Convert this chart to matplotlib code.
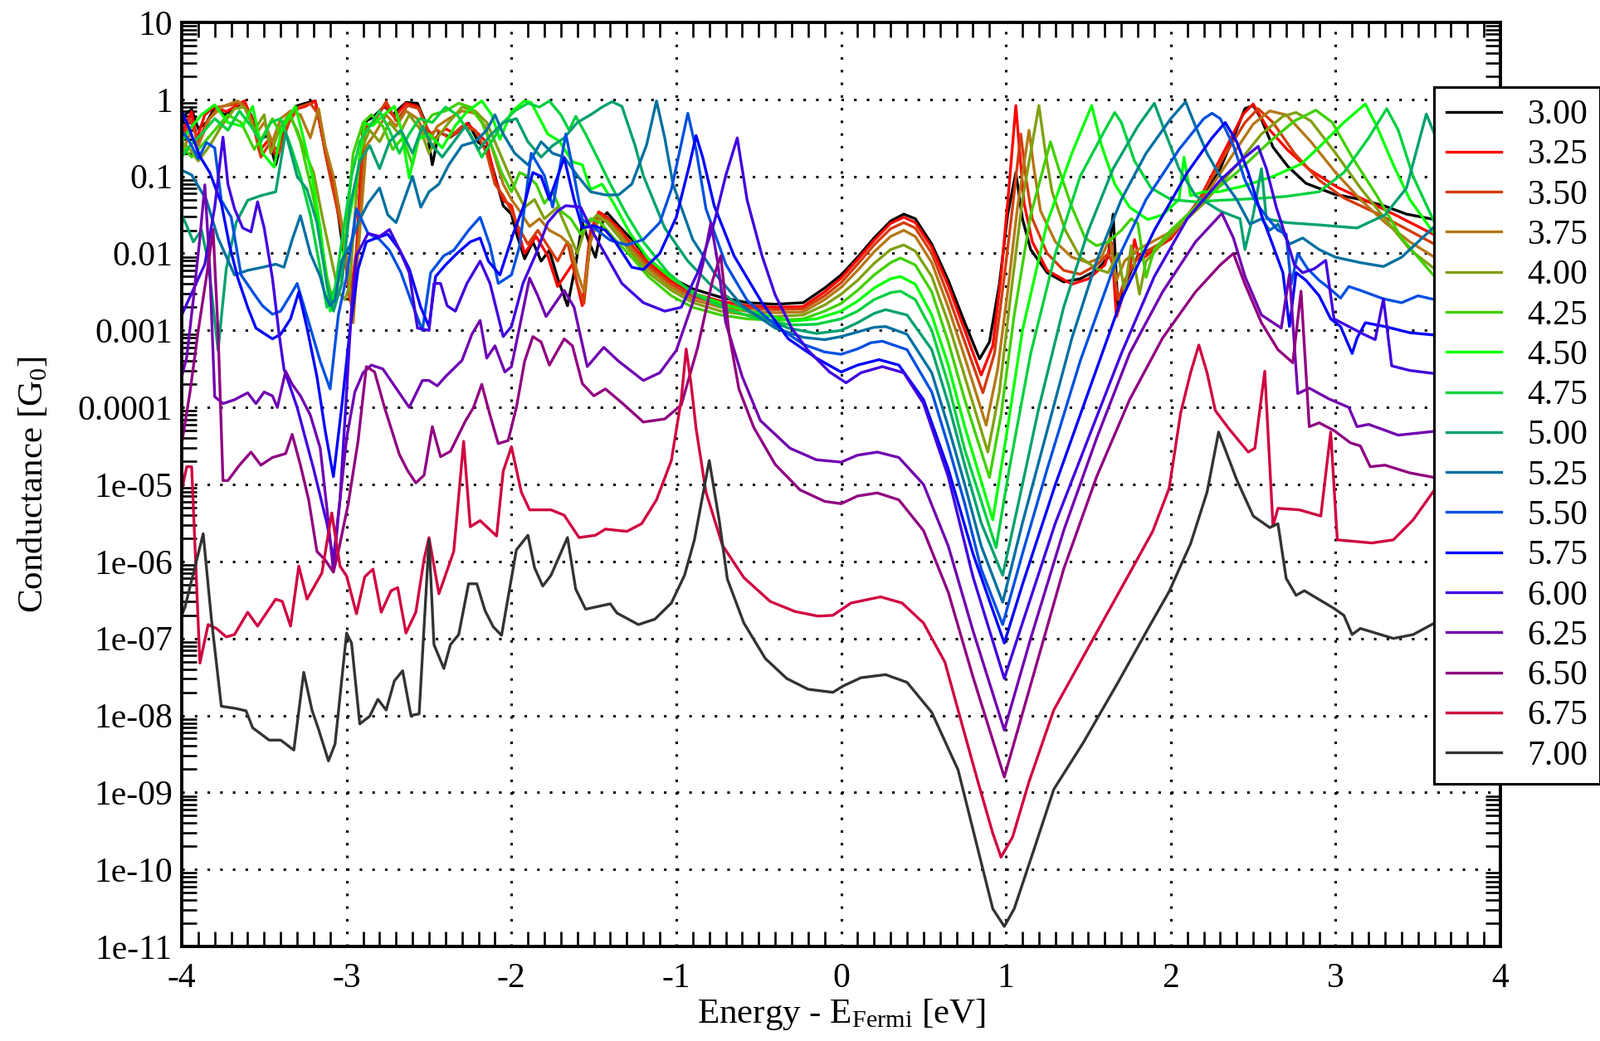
import numpy as np
import matplotlib
matplotlib.use('Agg')
import matplotlib.pyplot as plt
from matplotlib.ticker import FixedLocator, FuncFormatter, MultipleLocator

# each curve: (energy [eV], log10 conductance [G0])
c300 = [(-4.00, -0.35), (-3.98, -0.20), (-3.94, -0.13), (-3.90, -0.38), (-3.85, -0.30), (-3.80, -0.11),
        (-3.74, -0.20), (-3.63, -0.04), (-3.58, -0.20), (-3.53, -0.52), (-3.48, -0.47), (-3.43, -0.85),
        (-3.38, -0.43), (-3.31, -0.09), (-3.25, -0.05), (-3.19, -0.02), (-3.15, -0.45), (-3.11, -0.81),
        (-3.06, -1.35), (-3.03, -1.82), (-2.99, -2.32), (-2.97, -2.68), (-2.94, -2.10), (-2.90, -0.31),
        (-2.84, -0.23), (-2.77, -0.09), (-2.72, -0.20), (-2.64, -0.04), (-2.57, -0.05), (-2.52, -0.31),
        (-2.48, -0.85), (-2.44, -0.43), (-2.37, -0.49), (-2.32, -0.41), (-2.26, -0.31), (-2.20, -0.56),
        (-2.15, -0.63), (-2.10, -0.99), (-2.05, -1.38), (-2.00, -1.49), (-1.97, -1.74), (-1.92, -2.07),
        (-1.87, -1.85), (-1.82, -2.10), (-1.77, -1.96), (-1.72, -2.32), (-1.66, -2.68), (-1.61, -2.14),
        (-1.57, -1.60), (-1.53, -1.85), (-1.49, -2.05), (-1.44, -1.52), (-1.42, -1.47), (-1.35, -1.64),
        (-1.27, -1.82), (-1.17, -2.07), (-1.03, -2.32), (-0.90, -2.46), (-0.73, -2.57), (-0.57, -2.64),
        (-0.40, -2.66), (-0.23, -2.64), (-0.10, -2.45), (0.00, -2.28), (0.10, -2.05), (0.20, -1.80),
        (0.30, -1.58), (0.38, -1.49), (0.45, -1.55), (0.55, -1.88), (0.65, -2.35), (0.75, -2.90),
        (0.84, -3.37), (0.90, -3.15), (0.96, -2.40), (1.01, -1.50), (1.06, -0.95), (1.10, -1.55),
        (1.15, -1.95), (1.25, -2.25), (1.35, -2.37), (1.45, -2.33), (1.55, -2.22), (1.62, -2.05),
        (1.65, -1.49), (1.68, -2.74), (1.72, -2.42), (1.80, -2.03), (2.00, -1.81), (2.17, -1.31),
        (2.29, -0.95), (2.39, -0.44), (2.45, -0.12), (2.50, -0.08), (2.55, -0.26), (2.62, -0.62),
        (2.71, -0.87), (2.82, -1.09), (2.99, -1.23), (3.13, -1.29), (3.29, -1.38), (3.43, -1.49),
        (3.60, -1.56)]
c325 = [(-4.00, -0.45), (-3.98, -0.35), (-3.94, -0.16), (-3.91, -0.52), (-3.86, -0.20), (-3.80, -0.09),
        (-3.73, -0.16), (-3.62, -0.02), (-3.57, -0.27), (-3.53, -0.67), (-3.47, -0.52), (-3.43, -0.74),
        (-3.36, -0.34), (-3.31, -0.13), (-3.25, -0.09), (-3.19, -0.02), (-3.14, -0.56), (-3.10, -0.99),
        (-3.05, -1.38), (-3.01, -2.03), (-2.98, -2.61), (-2.94, -1.96), (-2.90, -0.38), (-2.84, -0.31),
        (-2.77, -0.07), (-2.71, -0.23), (-2.64, -0.05), (-2.57, -0.09), (-2.51, -0.38), (-2.47, -0.52),
        (-2.40, -0.38), (-2.34, -0.45), (-2.27, -0.31), (-2.20, -0.45), (-2.15, -0.56), (-2.10, -1.03),
        (-2.05, -1.31), (-2.00, -1.38), (-1.95, -1.78), (-1.92, -2.00), (-1.85, -1.78), (-1.78, -2.03),
        (-1.72, -2.43), (-1.63, -2.14), (-1.57, -2.68), (-1.52, -1.70), (-1.47, -1.46), (-1.42, -1.53),
        (-1.35, -1.67), (-1.27, -1.89), (-1.17, -2.12), (-1.03, -2.36), (-0.90, -2.52), (-0.73, -2.62),
        (-0.57, -2.68), (-0.40, -2.70), (-0.23, -2.69), (-0.10, -2.50), (0.00, -2.32), (0.10, -2.08),
        (0.20, -1.83), (0.30, -1.61), (0.38, -1.53), (0.45, -1.60), (0.55, -1.92), (0.65, -2.42),
        (0.75, -3.00), (0.85, -3.58), (0.92, -3.20), (0.97, -2.30), (1.02, -1.10), (1.06, -0.08),
        (1.08, -0.60), (1.11, -1.35), (1.16, -1.85), (1.25, -2.22), (1.40, -2.40), (1.50, -2.33),
        (1.60, -2.15), (1.64, -1.86), (1.67, -2.82), (1.71, -2.55), (1.75, -2.20), (1.78, -1.82),
        (1.81, -2.10), (1.90, -1.95), (2.00, -1.81), (2.17, -1.31), (2.32, -0.69), (2.44, -0.19),
        (2.50, -0.06), (2.58, -0.35), (2.71, -0.66), (2.84, -0.91), (3.01, -1.14), (3.21, -1.34),
        (3.38, -1.52), (3.60, -1.76)]
c350 = [(-4.00, -0.55), (-3.95, -0.25), (-3.90, -0.55), (-3.85, -0.30), (-3.78, -0.10), (-3.70, -0.07),
        (-3.63, -0.05), (-3.57, -0.30), (-3.52, -0.75), (-3.46, -0.55), (-3.41, -0.70), (-3.35, -0.30),
        (-3.29, -0.10), (-3.22, -0.05), (-3.17, -0.20), (-3.13, -0.70), (-3.08, -1.20), (-3.03, -1.70),
        (-2.99, -2.40), (-2.96, -2.75), (-2.93, -1.80), (-2.89, -0.40), (-2.83, -0.28), (-2.76, -0.03),
        (-2.70, -0.28), (-2.63, -0.08), (-2.56, -0.12), (-2.50, -0.45), (-2.45, -0.40), (-2.38, -0.50),
        (-2.30, -0.35), (-2.22, -0.40), (-2.15, -0.70), (-2.10, -1.10), (-2.05, -1.25), (-2.00, -1.45),
        (-1.96, -1.65), (-1.90, -1.88), (-1.84, -1.70), (-1.78, -1.90), (-1.72, -2.10), (-1.66, -1.85),
        (-1.60, -2.40), (-1.56, -2.65), (-1.52, -1.80), (-1.47, -1.50), (-1.42, -1.55), (-1.35, -1.70),
        (-1.27, -1.92), (-1.17, -2.16), (-1.03, -2.40), (-0.90, -2.56), (-0.73, -2.66), (-0.57, -2.71),
        (-0.40, -2.73), (-0.23, -2.72), (-0.10, -2.55), (0.00, -2.38), (0.10, -2.14), (0.20, -1.89),
        (0.30, -1.68), (0.38, -1.60), (0.45, -1.67), (0.55, -2.00), (0.65, -2.55), (0.75, -3.15),
        (0.86, -3.81), (0.93, -3.30), (0.99, -2.30), (1.04, -1.40), (1.09, -0.45), (1.12, -1.00),
        (1.16, -1.55), (1.25, -2.00), (1.35, -2.22), (1.45, -2.27), (1.55, -2.15), (1.62, -2.00),
        (1.65, -2.15), (1.68, -2.60), (1.72, -2.35), (1.80, -2.05), (2.00, -1.78), (2.17, -1.32),
        (2.32, -0.75), (2.45, -0.30), (2.53, -0.12), (2.62, -0.30), (2.75, -0.70), (2.90, -1.05),
        (3.05, -1.28), (3.25, -1.48), (3.40, -1.65), (3.60, -1.88)]
c375 = [(-4.00, -0.70), (-3.95, -0.45), (-3.90, -0.60), (-3.83, -0.25), (-3.76, -0.10), (-3.66, -0.02),
        (-3.60, -0.15), (-3.55, -0.45), (-3.50, -0.30), (-3.45, -0.55), (-3.40, -0.25), (-3.34, -0.15),
        (-3.28, -0.20), (-3.22, -0.50), (-3.17, -0.12), (-3.13, -0.60), (-3.08, -1.00), (-3.03, -1.60),
        (-2.99, -2.20), (-2.96, -2.90), (-2.93, -2.00), (-2.88, -0.60), (-2.83, -0.45), (-2.76, -0.20),
        (-2.70, -0.35), (-2.64, -0.15), (-2.57, -0.25), (-2.50, -0.55), (-2.45, -0.35), (-2.38, -0.25),
        (-2.30, -0.15), (-2.22, -0.18), (-2.16, -0.35), (-2.10, -0.75), (-2.05, -1.10), (-2.00, -1.30),
        (-1.95, -1.45), (-1.89, -1.65), (-1.83, -1.55), (-1.77, -1.70), (-1.70, -1.78), (-1.64, -1.90),
        (-1.60, -2.25), (-1.56, -2.50), (-1.52, -1.85), (-1.47, -1.55), (-1.42, -1.58), (-1.35, -1.73),
        (-1.27, -1.95), (-1.17, -2.20), (-1.03, -2.44), (-0.90, -2.60), (-0.73, -2.70), (-0.57, -2.75),
        (-0.40, -2.77), (-0.23, -2.76), (-0.10, -2.60), (0.00, -2.44), (0.10, -2.22), (0.20, -1.98),
        (0.30, -1.78), (0.38, -1.70), (0.45, -1.78), (0.55, -2.12), (0.65, -2.70), (0.75, -3.35),
        (0.88, -4.23), (0.95, -3.50), (1.01, -2.50), (1.07, -1.40), (1.14, -0.40), (1.17, -0.90),
        (1.21, -1.45), (1.30, -1.85), (1.40, -2.05), (1.50, -2.12), (1.58, -2.05), (1.63, -1.80),
        (1.67, -2.35), (1.72, -2.10), (1.80, -1.95), (2.00, -1.72), (2.20, -1.28), (2.35, -0.80),
        (2.50, -0.32), (2.60, -0.15), (2.70, -0.20), (2.85, -0.55), (3.00, -0.95), (3.15, -1.30),
        (3.30, -1.60), (3.45, -1.85), (3.60, -2.05)]
c400 = [(-4.00, -0.55), (-3.95, -0.65), (-3.90, -0.80), (-3.83, -0.60), (-3.76, -0.35), (-3.68, -0.12),
        (-3.62, -0.10), (-3.56, -0.40), (-3.50, -0.20), (-3.46, -0.70), (-3.40, -0.35), (-3.35, -0.20),
        (-3.30, -0.40), (-3.25, -0.70), (-3.20, -0.95), (-3.15, -1.50), (-3.10, -2.00), (-3.05, -2.50),
        (-3.01, -2.60), (-2.98, -2.40), (-2.95, -1.50), (-2.92, -0.70), (-2.86, -0.40), (-2.80, -0.55),
        (-2.74, -0.30), (-2.68, -0.45), (-2.62, -0.20), (-2.55, -0.40), (-2.50, -0.70), (-2.45, -0.50),
        (-2.38, -0.30), (-2.30, -0.10), (-2.22, -0.15), (-2.15, -0.30), (-2.10, -0.55), (-2.04, -0.85),
        (-1.98, -1.15), (-1.92, -1.40), (-1.86, -1.30), (-1.80, -1.55), (-1.72, -1.40), (-1.66, -1.70),
        (-1.60, -2.00), (-1.55, -1.65), (-1.48, -1.50), (-1.42, -1.60), (-1.35, -1.78), (-1.27, -2.00),
        (-1.17, -2.25), (-1.03, -2.48), (-0.90, -2.64), (-0.73, -2.75), (-0.57, -2.80), (-0.40, -2.82),
        (-0.23, -2.80), (-0.10, -2.67), (0.00, -2.53), (0.10, -2.35), (0.20, -2.13), (0.30, -1.95),
        (0.38, -1.89), (0.45, -1.97), (0.55, -2.30), (0.65, -2.90), (0.75, -3.60), (0.89, -4.58),
        (0.96, -3.80), (1.02, -2.70), (1.10, -1.30), (1.20, -0.08), (1.24, -0.70), (1.28, -1.20),
        (1.36, -1.70), (1.45, -2.05), (1.55, -2.20), (1.62, -2.25), (1.68, -2.00), (1.72, -2.50),
        (1.76, -1.90), (1.81, -2.53), (1.85, -2.10), (2.00, -1.75), (2.20, -1.35), (2.40, -0.85),
        (2.55, -0.45), (2.68, -0.22), (2.76, -0.17), (2.85, -0.28), (3.00, -0.70), (3.15, -1.15),
        (3.30, -1.55), (3.45, -1.95), (3.60, -2.20)]
c425 = [(-4.00, -0.60), (-3.94, -0.75), (-3.88, -0.60), (-3.80, -0.40), (-3.72, -0.20), (-3.64, -0.30),
        (-3.56, -0.65), (-3.50, -0.45), (-3.45, -0.25), (-3.40, -0.45), (-3.34, -0.20), (-3.28, -0.55),
        (-3.22, -1.10), (-3.17, -1.60), (-3.12, -2.30), (-3.08, -2.65), (-3.03, -2.40), (-2.99, -1.40),
        (-2.96, -0.70), (-2.90, -0.30), (-2.85, -0.20), (-2.78, -0.35), (-2.72, -0.65), (-2.66, -0.50),
        (-2.60, -0.85), (-2.55, -0.40), (-2.48, -0.20), (-2.40, -0.15), (-2.32, -0.05), (-2.25, -0.10),
        (-2.18, -0.30), (-2.12, -0.60), (-2.06, -0.95), (-2.00, -1.20), (-1.95, -0.95), (-1.90, -1.00),
        (-1.85, -1.10), (-1.80, -1.35), (-1.75, -1.20), (-1.70, -1.45), (-1.64, -1.55), (-1.58, -1.75),
        (-1.52, -1.55), (-1.46, -1.60), (-1.38, -1.80), (-1.27, -2.05), (-1.17, -2.30), (-1.03, -2.55),
        (-0.90, -2.70), (-0.73, -2.80), (-0.57, -2.85), (-0.40, -2.87), (-0.23, -2.85), (-0.10, -2.75),
        (0.00, -2.65), (0.10, -2.48), (0.20, -2.28), (0.30, -2.12), (0.36, -2.06), (0.45, -2.15),
        (0.55, -2.50), (0.65, -3.15), (0.75, -3.90), (0.90, -4.91), (0.97, -4.10), (1.05, -2.80),
        (1.15, -1.50), (1.27, -0.55), (1.32, -0.90), (1.40, -1.40), (1.48, -1.80), (1.55, -1.90),
        (1.62, -1.85), (1.70, -1.70), (1.76, -1.55), (1.80, -1.61), (1.85, -2.31), (1.90, -1.95),
        (2.00, -1.70), (2.20, -1.30), (2.40, -0.95), (2.60, -0.55), (2.75, -0.28), (2.88, -0.14),
        (2.98, -0.30), (3.10, -0.75), (3.25, -1.25), (3.40, -1.80), (3.60, -2.30)]
c450 = [(-4.00, -0.55), (-3.95, -0.38), (-3.88, -0.20), (-3.80, -0.07), (-3.72, -0.30), (-3.63, -0.35),
        (-3.57, -0.09), (-3.51, -0.70), (-3.44, -0.88), (-3.39, -0.35), (-3.31, -0.09), (-3.26, -0.52),
        (-3.21, -0.99), (-3.16, -1.67), (-3.10, -2.75), (-3.04, -2.30), (-2.99, -1.60), (-2.94, -1.06),
        (-2.89, -0.31), (-2.84, -0.34), (-2.79, -0.23), (-2.71, -0.09), (-2.67, -0.38), (-2.62, -1.02),
        (-2.57, -0.52), (-2.50, -0.45), (-2.42, -0.63), (-2.34, -0.34), (-2.27, -0.16), (-2.18, -0.02),
        (-2.12, -0.20), (-2.07, -0.52), (-2.00, -0.16), (-1.92, -0.02), (-1.88, -0.04), (-1.78, -0.45),
        (-1.71, -0.54), (-1.63, -0.81), (-1.57, -0.85), (-1.52, -1.17), (-1.45, -1.10), (-1.38, -1.35),
        (-1.28, -1.74), (-1.17, -2.07), (-1.03, -2.32), (-0.87, -2.54), (-0.68, -2.68), (-0.48, -2.79),
        (-0.30, -2.88), (-0.15, -2.85), (0.00, -2.75), (0.10, -2.62), (0.20, -2.45), (0.30, -2.33),
        (0.36, -2.30), (0.45, -2.40), (0.55, -2.80), (0.65, -3.45), (0.75, -4.25), (0.92, -5.46),
        (1.00, -4.40), (1.10, -3.00), (1.25, -1.60), (1.40, -0.70), (1.52, -0.08), (1.58, -0.60),
        (1.66, -1.10), (1.75, -1.40), (1.86, -1.56), (1.95, -1.50), (2.05, -1.30), (2.08, -0.75),
        (2.12, -1.25), (2.20, -1.20), (2.29, -1.20), (2.45, -1.12), (2.62, -1.00), (2.79, -0.84),
        (2.90, -0.62), (3.05, -0.30), (3.18, -0.06), (3.25, -0.35), (3.35, -0.85), (3.45, -1.30),
        (3.60, -1.75)]
c475 = [(-4.00, -0.75), (-3.95, -0.60), (-3.88, -0.45), (-3.80, -0.25), (-3.72, -0.40), (-3.65, -0.15),
        (-3.58, -0.35), (-3.52, -0.55), (-3.46, -0.30), (-3.40, -0.25), (-3.34, -0.60), (-3.28, -1.00),
        (-3.22, -1.50), (-3.16, -2.20), (-3.12, -2.70), (-3.07, -2.45), (-3.02, -1.70), (-2.97, -1.00),
        (-2.92, -0.55), (-2.86, -0.35), (-2.80, -0.15), (-2.74, -0.40), (-2.68, -0.70), (-2.62, -0.45),
        (-2.56, -0.25), (-2.48, -0.30), (-2.40, -0.10), (-2.33, -0.20), (-2.25, -0.45), (-2.18, -0.75),
        (-2.12, -0.55), (-2.05, -0.30), (-1.98, -0.15), (-1.90, -0.05), (-1.83, -0.10), (-1.77, -0.02),
        (-1.70, -0.20), (-1.65, -0.40), (-1.61, -0.22), (-1.55, -0.45), (-1.48, -0.75), (-1.40, -1.10),
        (-1.30, -1.50), (-1.20, -1.85), (-1.05, -2.25), (-0.90, -2.52), (-0.70, -2.72), (-0.50, -2.85),
        (-0.30, -2.93), (-0.15, -2.92), (0.00, -2.85), (0.10, -2.75), (0.20, -2.60), (0.30, -2.51),
        (0.36, -2.49), (0.45, -2.60), (0.55, -3.00), (0.65, -3.70), (0.75, -4.55), (0.94, -5.82),
        (1.02, -4.80), (1.15, -3.30), (1.30, -2.00), (1.45, -1.00), (1.60, -0.40), (1.66, -0.17),
        (1.70, -0.30), (1.78, -0.80), (1.88, -1.15), (2.00, -1.30), (2.15, -1.33), (2.30, -1.31),
        (2.50, -1.29), (2.70, -1.26), (2.90, -1.20), (3.05, -0.95), (3.20, -0.50), (3.31, -0.12),
        (3.38, -0.40), (3.47, -1.00), (3.60, -1.60)]
c500 = [(-4.00, -1.50), (-3.97, -1.64), (-3.93, -1.85), (-3.88, -1.70), (-3.84, -2.10), (-3.78, -3.26),
        (-3.73, -2.20), (-3.67, -1.60), (-3.60, -1.31), (-3.52, -1.25), (-3.43, -1.20), (-3.37, -0.43),
        (-3.30, -1.00), (-3.24, -1.17), (-3.18, -1.60), (-3.12, -2.40), (-3.08, -2.75), (-3.03, -2.40),
        (-2.98, -1.40), (-2.92, -0.80), (-2.86, -0.60), (-2.80, -0.90), (-2.74, -0.55), (-2.67, -0.40),
        (-2.60, -0.70), (-2.54, -0.35), (-2.48, -0.60), (-2.42, -0.75), (-2.35, -0.55), (-2.28, -0.35),
        (-2.20, -0.65), (-2.12, -0.45), (-2.05, -0.30), (-1.97, -0.25), (-1.90, -0.55), (-1.82, -0.75),
        (-1.75, -0.60), (-1.68, -0.50), (-1.60, -0.30), (-1.52, -0.20), (-1.45, -0.10), (-1.39, -0.03),
        (-1.33, -0.09), (-1.25, -0.60), (-1.20, -0.99), (-1.07, -1.67), (-0.93, -2.10), (-0.80, -2.39),
        (-0.57, -2.75), (-0.32, -2.97), (-0.15, -3.04), (0.00, -3.00), (0.10, -2.90), (0.20, -2.78),
        (0.27, -2.73), (0.40, -2.80), (0.55, -3.25), (0.65, -3.95), (0.75, -4.75), (0.85, -5.50),
        (0.98, -6.18), (1.08, -5.20), (1.20, -4.00), (1.35, -2.70), (1.50, -1.70), (1.65, -0.90),
        (1.80, -0.35), (1.90, -0.05), (1.97, -0.45), (2.05, -0.90), (2.15, -1.25), (2.30, -1.45),
        (2.42, -1.55), (2.45, -1.95), (2.50, -1.50), (2.55, -0.90), (2.58, -1.55), (2.70, -1.60),
        (2.90, -1.63), (3.13, -1.67), (3.30, -1.50), (3.43, -1.15), (3.55, -0.19), (3.60, -0.45)]
c525 = [(-4.00, -0.92), (-3.94, -0.98), (-3.85, -1.31), (-3.78, -1.80), (-3.68, -2.28), (-3.60, -2.22),
        (-3.51, -2.18), (-3.43, -2.14), (-3.38, -2.18), (-3.33, -1.82), (-3.28, -1.51), (-3.22, -2.00),
        (-3.16, -2.30), (-3.13, -2.54), (-3.10, -2.68), (-3.07, -2.60), (-3.03, -2.10), (-2.98, -1.90),
        (-2.93, -1.60), (-2.87, -1.35), (-2.80, -1.15), (-2.75, -1.50), (-2.70, -1.60), (-2.65, -1.30),
        (-2.60, -1.00), (-2.55, -1.40), (-2.50, -1.20), (-2.44, -1.10), (-2.38, -0.85), (-2.30, -0.60),
        (-2.22, -0.55), (-2.15, -0.40), (-2.10, -0.20), (-2.05, -0.45), (-1.98, -0.70), (-1.90, -0.85),
        (-1.82, -0.55), (-1.75, -0.70), (-1.68, -0.75), (-1.60, -0.99), (-1.52, -1.20), (-1.43, -1.24),
        (-1.35, -1.24), (-1.27, -1.10), (-1.18, -0.59), (-1.12, -0.02), (-1.07, -0.50), (-1.02, -1.10),
        (-0.90, -1.82), (-0.77, -2.25), (-0.60, -2.68), (-0.40, -2.97), (-0.23, -3.09), (-0.10, -3.12),
        (0.00, -3.08), (0.10, -3.02), (0.20, -2.96), (0.27, -2.95), (0.40, -3.05), (0.55, -3.55),
        (0.65, -4.25), (0.75, -5.00), (0.85, -5.80), (0.98, -6.53), (1.10, -5.50), (1.25, -4.30),
        (1.40, -3.10), (1.55, -2.10), (1.70, -1.30), (1.85, -0.70), (2.00, -0.25), (2.09, -0.03),
        (2.15, -0.35), (2.22, -0.70), (2.30, -1.00), (2.40, -1.30), (2.48, -1.62), (2.55, -1.55),
        (2.60, -1.70), (2.65, -1.62), (2.72, -1.88), (2.80, -1.80), (2.90, -1.95), (3.00, -2.05),
        (3.15, -2.12), (3.29, -2.17), (3.40, -2.05), (3.50, -1.85), (3.60, -1.65)]
c550 = [(-4.00, -0.41), (-3.96, -0.52), (-3.90, -0.77), (-3.85, -0.56), (-3.80, -0.63), (-3.76, -1.31),
        (-3.70, -1.53), (-3.64, -2.28), (-3.57, -2.50), (-3.51, -2.68), (-3.45, -2.79), (-3.40, -2.75),
        (-3.34, -2.54), (-3.30, -2.39), (-3.24, -2.82), (-3.16, -3.40), (-3.10, -3.76), (-3.05, -2.80),
        (-3.00, -2.30), (-2.94, -1.42), (-2.87, -1.74), (-2.80, -1.82), (-2.74, -1.96), (-2.67, -2.25),
        (-2.61, -2.61), (-2.54, -3.00), (-2.49, -2.25), (-2.41, -2.03), (-2.35, -1.96), (-2.26, -1.70),
        (-2.19, -1.53), (-2.13, -1.90), (-2.08, -2.39), (-2.00, -2.28), (-1.95, -1.90), (-1.88, -0.70),
        (-1.80, -0.99), (-1.75, -1.40), (-1.67, -0.45), (-1.62, -0.99), (-1.57, -1.56), (-1.48, -1.70),
        (-1.40, -1.83), (-1.30, -1.89), (-1.20, -1.82), (-1.10, -1.60), (-1.03, -1.17), (-0.97, -0.58),
        (-0.93, -0.18), (-0.88, -0.65), (-0.82, -1.42), (-0.70, -2.14), (-0.57, -2.61), (-0.40, -2.93),
        (-0.23, -3.18), (-0.10, -3.28), (0.00, -3.31), (0.10, -3.24), (0.18, -3.16), (0.25, -3.14),
        (0.40, -3.25), (0.55, -3.80), (0.65, -4.50), (0.75, -5.25), (0.85, -6.10), (0.98, -6.82),
        (1.10, -5.90), (1.25, -4.80), (1.45, -3.40), (1.65, -2.20), (1.85, -1.30), (2.05, -0.65),
        (2.20, -0.25), (2.25, -0.18), (2.30, -0.25), (2.38, -0.60), (2.45, -1.05), (2.52, -1.35),
        (2.58, -1.52), (2.65, -1.70), (2.70, -1.75), (2.73, -2.40), (2.77, -2.00), (2.83, -2.20),
        (2.90, -2.35), (2.96, -2.45), (3.03, -2.58), (3.08, -2.43), (3.15, -2.48), (3.29, -2.59),
        (3.40, -2.64), (3.50, -2.55), (3.60, -2.60)]
c575 = [(-4.00, -0.15), (-3.96, -0.35), (-3.89, -0.74), (-3.83, -0.95), (-3.76, -1.35), (-3.71, -1.90),
        (-3.66, -2.32), (-3.60, -2.70), (-3.55, -2.97), (-3.45, -3.11), (-3.40, -3.05), (-3.34, -2.85),
        (-3.29, -2.50), (-3.24, -2.97), (-3.18, -3.60), (-3.13, -4.30), (-3.08, -4.90), (-3.03, -4.00),
        (-2.98, -3.00), (-2.93, -2.20), (-2.88, -1.85), (-2.82, -1.80), (-2.75, -1.75), (-2.68, -1.95),
        (-2.62, -2.20), (-2.55, -2.70), (-2.50, -2.95), (-2.46, -2.30), (-2.40, -2.15), (-2.33, -2.00),
        (-2.25, -1.85), (-2.19, -1.80), (-2.14, -2.10), (-2.07, -2.28), (-1.99, -1.75), (-1.92, -1.35),
        (-1.87, -0.95), (-1.82, -1.00), (-1.77, -1.30), (-1.68, -0.76), (-1.62, -1.30), (-1.57, -1.67),
        (-1.50, -1.64), (-1.43, -1.70), (-1.37, -1.85), (-1.27, -2.18), (-1.20, -2.21), (-1.10, -2.00),
        (-1.00, -1.53), (-0.92, -0.85), (-0.88, -0.47), (-0.84, -0.75), (-0.77, -1.38), (-0.65, -2.03),
        (-0.48, -2.64), (-0.32, -3.11), (-0.15, -3.36), (0.00, -3.54), (0.10, -3.45), (0.23, -3.38),
        (0.35, -3.45), (0.50, -3.90), (0.65, -4.80), (0.80, -5.90), (0.99, -7.06), (1.10, -6.30),
        (1.30, -5.00), (1.50, -3.80), (1.70, -2.60), (1.90, -1.70), (2.10, -0.95), (2.25, -0.50),
        (2.33, -0.30), (2.40, -0.55), (2.47, -0.95), (2.55, -1.50), (2.62, -1.90), (2.68, -2.25),
        (2.72, -2.95), (2.76, -2.25), (2.82, -2.35), (2.90, -2.55), (2.97, -2.85), (3.03, -2.95),
        (3.10, -3.30), (3.13, -3.10), (3.18, -2.90), (3.30, -2.95), (3.45, -3.03), (3.60, -3.06)]
c600 = [(-4.00, -2.80), (-3.93, -2.47), (-3.86, -2.14), (-3.80, -1.40), (-3.75, -0.49), (-3.72, -1.10),
        (-3.68, -1.42), (-3.63, -1.67), (-3.58, -1.72), (-3.54, -1.33), (-3.50, -1.67), (-3.45, -2.32),
        (-3.41, -3.04), (-3.38, -3.50), (-3.30, -4.00), (-3.20, -4.80), (-3.12, -5.50), (-3.08, -5.97),
        (-3.04, -5.20), (-3.00, -3.80), (-2.97, -2.70), (-2.94, -2.03), (-2.87, -1.74), (-2.80, -1.78),
        (-2.74, -1.69), (-2.68, -1.95), (-2.62, -2.25), (-2.57, -2.97), (-2.50, -3.00), (-2.47, -2.39),
        (-2.43, -2.39), (-2.39, -2.68), (-2.34, -2.75), (-2.27, -2.39), (-2.19, -2.10), (-2.13, -2.39),
        (-2.05, -3.08), (-2.00, -2.95), (-1.93, -2.39), (-1.85, -2.00), (-1.78, -1.60), (-1.72, -1.45),
        (-1.67, -1.38), (-1.58, -1.40), (-1.50, -1.75), (-1.42, -2.05), (-1.33, -2.39), (-1.20, -2.64),
        (-1.07, -2.75), (-0.97, -2.70), (-0.87, -2.25), (-0.77, -1.60), (-0.70, -0.99), (-0.63, -0.50),
        (-0.57, -1.31), (-0.48, -2.03), (-0.40, -2.54), (-0.30, -2.97), (-0.20, -3.26), (-0.07, -3.54),
        (0.03, -3.68), (0.12, -3.55), (0.25, -3.47), (0.38, -3.55), (0.50, -3.95), (0.65, -4.90),
        (0.80, -6.20), (0.99, -7.52), (1.10, -6.80), (1.30, -5.50), (1.50, -4.40), (1.70, -3.30),
        (1.90, -2.30), (2.10, -1.55), (2.30, -1.05), (2.45, -0.75), (2.53, -0.61), (2.58, -0.90),
        (2.64, -1.40), (2.70, -1.80), (2.75, -2.15), (2.80, -2.25), (2.87, -2.20), (2.94, -2.09),
        (2.99, -2.85), (3.08, -2.95), (3.17, -3.05), (3.24, -3.12), (3.29, -2.59), (3.34, -3.46),
        (3.45, -3.52), (3.60, -3.56)]
c625 = [(-4.00, -3.60), (-3.97, -3.35), (-3.93, -2.60), (-3.89, -1.80), (-3.86, -1.11), (-3.83, -2.20),
        (-3.80, -3.86), (-3.75, -3.95), (-3.68, -3.90), (-3.60, -3.81), (-3.55, -3.95), (-3.50, -3.80),
        (-3.45, -3.85), (-3.42, -4.00), (-3.37, -3.53), (-3.33, -3.70), (-3.28, -3.85), (-3.22, -4.10),
        (-3.16, -4.53), (-3.12, -5.30), (-3.08, -6.13), (-3.05, -5.40), (-3.00, -4.40), (-2.95, -3.80),
        (-2.90, -3.55), (-2.85, -3.45), (-2.78, -3.50), (-2.70, -3.75), (-2.62, -4.00), (-2.54, -3.65),
        (-2.50, -3.65), (-2.45, -3.72), (-2.40, -3.60), (-2.30, -3.39), (-2.24, -3.05), (-2.19, -2.87),
        (-2.15, -3.36), (-2.10, -3.20), (-2.04, -3.54), (-2.00, -3.47), (-1.95, -2.95), (-1.89, -2.32),
        (-1.84, -2.55), (-1.79, -2.82), (-1.68, -2.48), (-1.62, -2.70), (-1.54, -3.47), (-1.44, -3.22),
        (-1.35, -3.40), (-1.20, -3.65), (-1.10, -3.55), (-1.00, -3.26), (-0.90, -2.64), (-0.84, -2.15),
        (-0.79, -1.60), (-0.75, -2.10), (-0.70, -2.90), (-0.60, -3.60), (-0.49, -4.17), (-0.31, -4.53),
        (-0.15, -4.68), (0.00, -4.71), (0.10, -4.62), (0.22, -4.58), (0.35, -4.65), (0.50, -5.00),
        (0.65, -5.80), (0.80, -6.90), (0.99, -8.19), (1.15, -7.00), (1.35, -5.60), (1.55, -4.40),
        (1.75, -3.30), (1.95, -2.50), (2.15, -1.85), (2.31, -1.48), (2.38, -1.80), (2.45, -2.30),
        (2.55, -2.80), (2.67, -2.97), (2.72, -2.27), (2.77, -3.82), (2.84, -3.75), (2.96, -3.89),
        (3.08, -4.00), (3.13, -4.25), (3.20, -4.22), (3.38, -4.36), (3.60, -4.31)]
c650 = [(-4.00, -4.47), (-3.95, -3.80), (-3.90, -3.00), (-3.85, -2.30), (-3.81, -1.69), (-3.78, -3.00),
        (-3.75, -4.95), (-3.72, -4.95), (-3.65, -4.75), (-3.58, -4.58), (-3.52, -4.75), (-3.45, -4.65),
        (-3.37, -4.60), (-3.33, -4.35), (-3.28, -4.75), (-3.23, -5.20), (-3.18, -5.87), (-3.13, -5.98),
        (-3.08, -6.14), (-3.05, -5.87), (-2.99, -5.25), (-2.93, -4.43), (-2.88, -3.47), (-2.83, -3.54),
        (-2.77, -4.00), (-2.68, -4.61), (-2.63, -4.82), (-2.58, -4.98), (-2.53, -4.88), (-2.48, -4.25),
        (-2.43, -4.64), (-2.37, -4.57), (-2.28, -4.18), (-2.23, -4.00), (-2.18, -3.70), (-2.13, -4.10),
        (-2.08, -4.47), (-2.02, -4.43), (-1.97, -4.00), (-1.92, -3.40), (-1.87, -3.08), (-1.82, -3.15),
        (-1.77, -3.45), (-1.68, -3.11), (-1.63, -3.20), (-1.57, -3.69), (-1.50, -3.85), (-1.43, -3.76),
        (-1.33, -3.94), (-1.20, -4.19), (-1.07, -4.15), (-0.97, -3.97), (-0.87, -3.22), (-0.78, -2.35),
        (-0.73, -2.03), (-0.68, -3.04), (-0.62, -3.76), (-0.53, -4.26), (-0.40, -4.74), (-0.25, -5.07),
        (-0.10, -5.22), (0.00, -5.25), (0.10, -5.15), (0.22, -5.11), (0.35, -5.20), (0.50, -5.60),
        (0.65, -6.40), (0.80, -7.50), (0.99, -8.80), (1.15, -7.60), (1.35, -6.10), (1.55, -4.90),
        (1.75, -3.90), (1.95, -3.10), (2.15, -2.50), (2.30, -2.15), (2.38, -2.00), (2.45, -2.40),
        (2.55, -2.90), (2.65, -3.25), (2.74, -3.42), (2.79, -2.49), (2.84, -4.25), (2.90, -4.20),
        (2.99, -4.30), (3.09, -4.46), (3.15, -4.50), (3.21, -4.77), (3.30, -4.75), (3.45, -4.85),
        (3.60, -4.91)]
c675 = [(-4.00, -5.07), (-3.97, -4.77), (-3.94, -4.77), (-3.89, -7.32), (-3.84, -6.82), (-3.79, -6.87),
        (-3.73, -6.98), (-3.68, -6.95), (-3.60, -6.66), (-3.54, -6.84), (-3.43, -6.49), (-3.39, -6.52),
        (-3.34, -6.84), (-3.29, -6.06), (-3.24, -6.49), (-3.15, -6.15), (-3.09, -5.37), (-3.04, -6.06),
        (-3.00, -6.19), (-2.94, -6.68), (-2.89, -6.20), (-2.84, -6.10), (-2.79, -6.66), (-2.73, -6.38),
        (-2.69, -6.34), (-2.64, -6.93), (-2.58, -6.66), (-2.53, -5.97), (-2.50, -5.69), (-2.44, -6.42),
        (-2.35, -5.87), (-2.29, -4.44), (-2.25, -5.55), (-2.19, -5.47), (-2.09, -5.67), (-2.05, -4.83),
        (-2.00, -4.51), (-1.94, -5.10), (-1.89, -5.33), (-1.76, -5.33), (-1.68, -5.40), (-1.59, -5.69),
        (-1.49, -5.66), (-1.43, -5.58), (-1.30, -5.61), (-1.21, -5.51), (-1.12, -5.20), (-1.03, -4.69),
        (-0.97, -3.90), (-0.94, -3.24), (-0.91, -3.70), (-0.88, -4.27), (-0.82, -5.10), (-0.72, -5.79),
        (-0.59, -6.21), (-0.43, -6.52), (-0.28, -6.65), (-0.14, -6.71), (-0.05, -6.70), (0.06, -6.54),
        (0.24, -6.46), (0.37, -6.54), (0.50, -6.80), (0.63, -7.31), (0.73, -8.09), (0.83, -8.86),
        (0.92, -9.53), (0.97, -9.84), (1.04, -9.58), (1.14, -8.86), (1.29, -7.93), (1.53, -7.00),
        (1.73, -6.23), (1.89, -5.61), (1.99, -5.05), (2.06, -4.07), (2.12, -3.55), (2.17, -3.19),
        (2.22, -3.55), (2.27, -4.04), (2.35, -4.27), (2.47, -4.58), (2.51, -4.53), (2.57, -3.53),
        (2.62, -5.54), (2.65, -5.31), (2.78, -5.33), (2.91, -5.41), (2.97, -4.32), (3.01, -5.72),
        (3.22, -5.76), (3.35, -5.72), (3.47, -5.46), (3.60, -5.07)]
c700 = [(-4.00, -6.70), (-3.98, -6.59), (-3.87, -5.64), (-3.82, -6.75), (-3.76, -7.88), (-3.67, -7.91),
        (-3.61, -7.94), (-3.57, -8.16), (-3.47, -8.32), (-3.40, -8.32), (-3.32, -8.45), (-3.26, -7.44),
        (-3.21, -7.93), (-3.17, -8.18), (-3.11, -8.59), (-3.07, -8.37), (-3.00, -6.93), (-2.97, -7.06),
        (-2.92, -8.11), (-2.86, -8.01), (-2.81, -7.79), (-2.76, -7.93), (-2.71, -7.55), (-2.66, -7.42),
        (-2.61, -8.00), (-2.56, -7.98), (-2.50, -5.72), (-2.47, -7.08), (-2.41, -7.39), (-2.37, -7.08),
        (-2.32, -6.95), (-2.26, -6.29), (-2.21, -6.29), (-2.16, -6.64), (-2.11, -6.85), (-2.06, -6.96),
        (-2.01, -6.34), (-1.97, -5.85), (-1.90, -5.66), (-1.86, -6.08), (-1.81, -6.32), (-1.76, -6.18),
        (-1.66, -5.69), (-1.61, -6.36), (-1.55, -6.62), (-1.40, -6.55), (-1.36, -6.67), (-1.23, -6.82),
        (-1.13, -6.75), (-1.03, -6.54), (-0.95, -6.18), (-0.89, -5.72), (-0.80, -4.69), (-0.74, -5.46),
        (-0.69, -6.23), (-0.59, -6.80), (-0.46, -7.26), (-0.33, -7.52), (-0.20, -7.66), (-0.05, -7.70),
        (0.01, -7.62), (0.12, -7.51), (0.27, -7.47), (0.40, -7.57), (0.55, -7.96), (0.71, -8.71),
        (0.83, -9.74), (0.92, -10.51), (0.99, -10.74), (1.05, -10.51), (1.17, -9.74), (1.29, -8.96),
        (1.47, -8.35), (1.68, -7.57), (1.86, -6.88), (1.99, -6.39), (2.12, -5.77), (2.22, -5.10),
        (2.29, -4.32), (2.40, -4.94), (2.50, -5.41), (2.60, -5.56), (2.65, -5.51), (2.70, -6.22),
        (2.76, -6.44), (2.81, -6.38), (2.99, -6.61), (3.05, -6.70), (3.10, -6.95), (3.15, -6.87),
        (3.35, -7.00), (3.47, -6.95), (3.60, -6.80)]

curves = [c300, c325, c350, c375, c400, c425, c450, c475, c500,
          c525, c550, c575, c600, c625, c650, c675, c700]
labels = ['3.00', '3.25', '3.50', '3.75', '4.00', '4.25', '4.50', '4.75', '5.00',
          '5.25', '5.50', '5.75', '6.00', '6.25', '6.50', '6.75', '7.00']
colors = ['#000000', '#ff0000', '#d43c0c', '#b47814', '#80a010', '#40d000', '#00ff00', '#00d040', '#00a070',
          '#0070a0', '#0050e0', '#0000ff', '#4000e0', '#7000b0', '#900080', '#d00040', '#333333']

plt.rcParams['font.family'] = ['Liberation Serif', 'DejaVu Serif']
plt.rcParams['mathtext.fontset'] = 'custom'
plt.rcParams['mathtext.rm'] = 'Liberation Serif'
plt.rcParams['mathtext.it'] = 'Liberation Serif:italic'
plt.rcParams['axes.unicode_minus'] = False

fig = plt.figure(figsize=(19.28, 12.55), dpi=100)
ax = fig.add_axes([0.1136, 0.0908, 0.8242, 0.8877])

for pts, lab, col in zip(curves, labels, colors):
    e, lg = np.array(pts).T
    ax.plot(e, 10.0 ** lg, color=col, lw=2.4, label=lab)

ax.set_yscale('log')
ax.set_xlim(-4, 4)
ax.set_ylim(1e-11, 10)

decades = np.arange(-11, 2)
ax.yaxis.set_major_locator(FixedLocator(10.0 ** decades))
minor = [m * 10.0 ** d for d in decades[:-1] for m in range(2, 10)]
ax.yaxis.set_minor_locator(FixedLocator(minor))


def ylab(v, pos):
    k = int(round(np.log10(v)))
    if k >= 0:
        return '%d' % (10 ** k)
    if k >= -4:
        return ('%.' + str(-k) + 'f') % v
    return '1e-%02d' % (-k)


ax.yaxis.set_major_formatter(FuncFormatter(ylab))
ax.xaxis.set_major_locator(MultipleLocator(1))
ax.xaxis.set_minor_locator(MultipleLocator(0.1))

ax.tick_params(which='both', direction='in', top=True, right=True, width=1.9, labelsize=30)
ax.tick_params(which='major', length=0)
ax.tick_params(which='minor', length=13)
ax.tick_params(axis='x', which='major', pad=14)
ax.tick_params(axis='y', which='major', pad=8)
for s in ax.spines.values():
    s.set_linewidth(2.8)

ax.grid(True, which='major', color='black', linestyle=(0, (1, 4)), linewidth=2.2)

ax.set_xlabel('Energy - E$_{\\mathrm{Fermi}}$ [eV]', fontsize=31)
ax.set_ylabel('Conductance [G$_{\\mathrm{0}}$]', fontsize=31)
ax.xaxis.set_label_coords(0.5, -0.055)
ax.yaxis.set_label_coords(-0.100, 0.5)

leg = ax.legend(loc='upper left', bbox_to_anchor=(1728 / 1928, 1 - 105 / 1255),
                bbox_transform=fig.transFigure, borderaxespad=0, fontsize=30,
                fancybox=False, framealpha=1, edgecolor='black', borderpad=0.35,
                labelspacing=0.235, handlelength=1.6, handletextpad=0.75)
leg.get_frame().set_linewidth(2.2)

fig.savefig('out.png', dpi=100)
